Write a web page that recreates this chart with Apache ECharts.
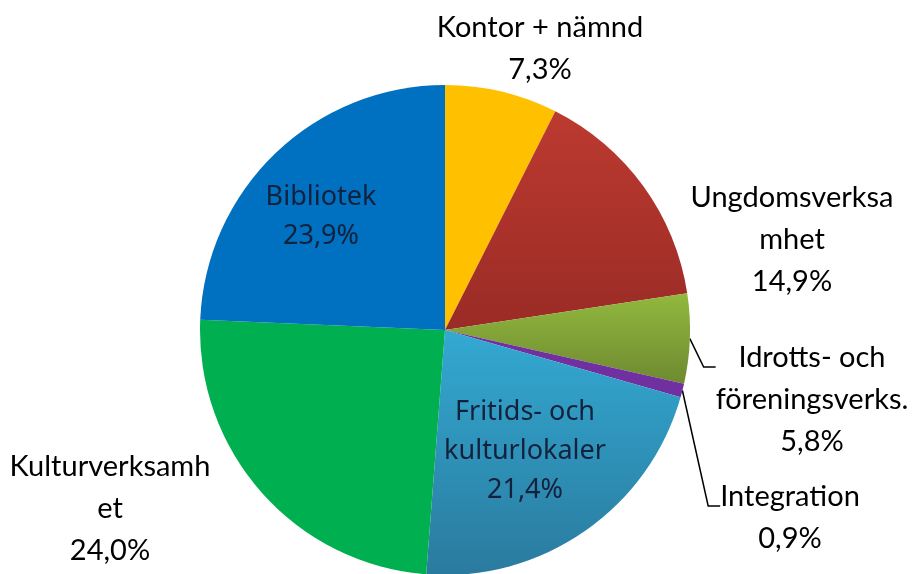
<!DOCTYPE html>
<html>
<head>
<meta charset="utf-8">
<script src="https://cdn.jsdelivr.net/npm/echarts@6/dist/echarts.min.js"></script>
<style>
  html, body { margin: 0; padding: 0; background: #fff; }
  #chart { width: 915px; height: 574px; }
</style>
</head>
<body>
<div id="chart"></div>
<script>
// kategorier (medurs från kl. 12)
const categories = ['Kontor + nämnd', 'Ungdomsverksamhet', 'Idrotts- och föreningsverks.', 'Integration', 'Fritids- och kulturlokaler', 'Kulturverksamhet', 'Bibliotek'];
// etiketter som de bryts i originalet
const labelTexts = ['Kontor + nämnd', 'Ungdomsverksa\nmhet', 'Idrotts- och\nföreningsverks.', 'Integration', 'Fritids- och\nkulturlokaler', 'Kulturverksamh\net', 'Bibliotek'];
const shares = [7.3, 14.9, 5.8, 0.9, 21.4, 24.0, 23.9];

const colors = [
    '#FFC000',
    { type: 'linear', x: 0, y: 0, x2: 0, y2: 1, colorStops: [{ offset: 0, color: '#BC3A30' }, { offset: 1, color: '#9A2B26' }] },
    { type: 'linear', x: 0, y: 0, x2: 0, y2: 1, colorStops: [{ offset: 0, color: '#92B83E' }, { offset: 1, color: '#6E8A30' }] },
    '#7030A0',
    { type: 'linear', x: 0, y: 0, x2: 0, y2: 1, colorStops: [{ offset: 0, color: '#33A9D2' }, { offset: 1, color: '#2A7A9E' }] },
    '#00B050',
    '#0070C0'
];
const inside = [false, false, false, false, true, false, true];
const withLine = [false, false, true, true, false, false, false];

// etikettpositioner (mitten av textblocket)
const labelPos = [[540, 49], [792, 240], [812, 400], [790, 518], [525, 451], [110, 509], [321, 217]];

const chart = echarts.init(document.getElementById('chart'));

const fmt = (v) => v.toFixed(1).replace('.', ',') + '%';

chart.setOption({
    backgroundColor: '#ffffff',
    animation: false,
    series: [{
        type: 'pie',
        center: [445, 330],
        radius: 245,
        startAngle: 90,
        clockwise: true,
        avoidLabelOverlap: false,
        itemStyle: { borderWidth: 0 },
        data: categories.map((name, i) => ({
            name: name,
            value: shares[i],
            itemStyle: { color: colors[i] },
            label: inside[i] ? {
                fontFamily: 'Noto Sans',
                fontSize: 27,
                lineHeight: 39,
                color: '#14213D'
            } : {
                fontFamily: 'Lato',
                fontSize: 29,
                lineHeight: 42,
                color: '#000000'
            },
            labelLine: { show: withLine[i], lineStyle: { color: '#000', width: 1.5 } }
        })),
        label: {
            show: true,
            position: 'outside',
            align: 'center',
            formatter: (p) => labelTexts[p.dataIndex] + '\n' + fmt(p.value)
        },
        labelLine: { show: false, length: 10, length2: 10, smooth: false },
        labelLayout: (params) => {
            const i = params.dataIndex;
            const [cx, cy] = labelPos[i];
            const out = { x: cx, y: cy, align: 'center', verticalAlign: 'middle' };
            if (withLine[i] && params.labelLinePoints) {
                const w = params.labelRect.width;
                const h = params.labelRect.height;
                const left = cx - w / 2;
                const endY = cy - h / 2 + 30;
                out.labelLinePoints = [params.labelLinePoints[0], [left - 12, endY], [left, endY]];
            }
            return out;
        }
    }]
});
</script>
</body>
</html>
